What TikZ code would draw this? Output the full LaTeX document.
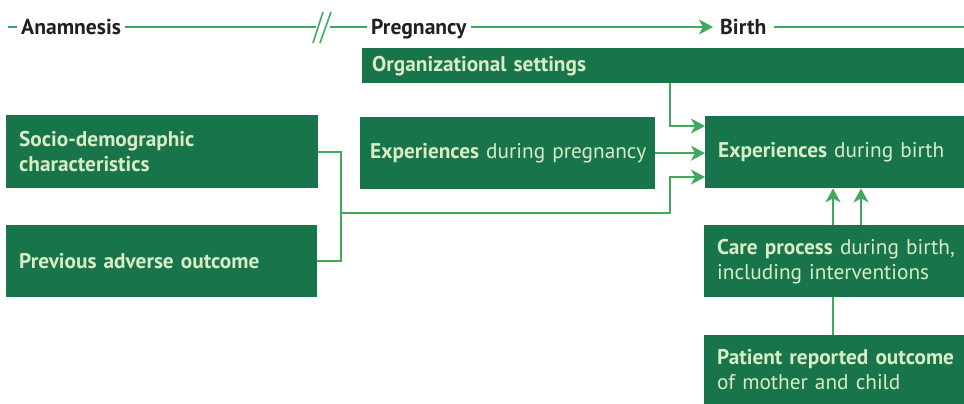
\documentclass[tikz,border=0pt]{standalone}
\usepackage{fontspec}
\setmainfont{PT Sans}
\usetikzlibrary{arrows.meta}
\definecolor{boxgreen}{HTML}{18744A}
\definecolor{linegreen}{HTML}{3FAA5E}
\definecolor{boxtext}{HTML}{D8ECC6}
\definecolor{labeltext}{HTML}{231F20}
\tikzset{
  x=1pt, y=-1pt,
  box/.style={fill=boxgreen, text=boxtext, anchor=north west, align=left,
    inner xsep=12pt, inner ysep=0pt, font=\fontsize{21.3}{25}\selectfont},
  phase/.style={text=labeltext, font=\bfseries\fontsize{21.6}{24}\selectfont,
    text height=15pt, text depth=0pt, inner xsep=4pt, inner ysep=0pt},
  link/.style={draw=linegreen, line width=1.6pt},
  arr/.style={link, -{Stealth[length=14pt, width=15pt, inset=4pt]}},
}
% one unbreakable line of box text
\newcommand{\boxline}[1]{\mbox{#1}}
\begin{document}
\begin{tikzpicture}
\useasboundingbox (0,0) rectangle (964,404);

% timeline
\node[phase, anchor=west] (anam) at (17,27) {Anamnesis};
\node[phase, anchor=west] (preg) at (367,27) {Pregnancy};
\node[phase, anchor=west, inner xsep=7pt] (birth) at (713,27) {Birth};
\coordinate (tStart) at (8,27);
\coordinate (tEnd) at (964,27);
\coordinate (brkL) at (316,27);
\coordinate (brkR) at (330,27);
\draw[link] (tStart) -- (anam.west);
\draw[link] (anam.east) -- (brkL);
\draw[link] (brkR) -- (preg.west);
\draw[arr] (preg.east) -- (birth.west);
\draw[link] (birth.east) -- (tEnd);
\draw[link] (313,43) -- (323,12);
\draw[link] (320,43) -- (331,12);

% boxes
\node[box, minimum height=35pt, text width=582pt, inner xsep=10pt] (org) at (362,48)
  {\boxline{\bfseries Organizational settings}};
\node[box, minimum height=73pt, text width=286pt, inner xsep=13pt] (sd) at (6,115)
  {\boxline{\bfseries Socio-demographic}\\\boxline{\bfseries characteristics}};
\node[box, minimum height=72pt, text width=285pt, inner xsep=13pt] (pa) at (6,225)
  {\boxline{\bfseries Previous adverse outcome}};
\node[box, minimum height=72pt, text width=275pt, inner xsep=10pt] (ep) at (360,117)
  {\boxline{\textbf{Experiences} during pregnancy}};
\node[box, minimum height=72pt, text width=233pt, inner xsep=13pt] (eb) at (705,116)
  {\boxline{\textbf{Experiences} during birth}};
\node[box, minimum height=72pt, text width=234pt, inner xsep=13pt] (cp) at (704,225)
  {\boxline{\textbf{Care process} during birth,}\\\boxline{including interventions}};
\node[box, minimum height=69pt, text width=234pt, inner xsep=13pt] (pr) at (704,335)
  {\boxline{\textbf{Patient reported outcome}}\\\boxline{of mother and child}};

% connectors
\coordinate (kO) at (670,126);
\coordinate (kB) at (341,213);
\coordinate (kC) at (670,177);
\coordinate (xA) at (833,0);
\coordinate (xB) at (861,0);
\draw[arr] (org.south -| kO) |- (eb.west |- kO);
\draw[arr] (ep.east) -- (eb.west |- ep.east);
\draw[link] (sd.east) -| (kB |- pa.east) -- (pa.east);
\draw[arr] (kB) -| (kC) -- (eb.west |- kC);
\draw[arr] (cp.north -| xA) -- (eb.south -| xA);
\draw[arr] (cp.north -| xB) -- (eb.south -| xB);
\draw[link] (pr.north -| xA) -- (cp.south -| xA);
\end{tikzpicture}
\end{document}
